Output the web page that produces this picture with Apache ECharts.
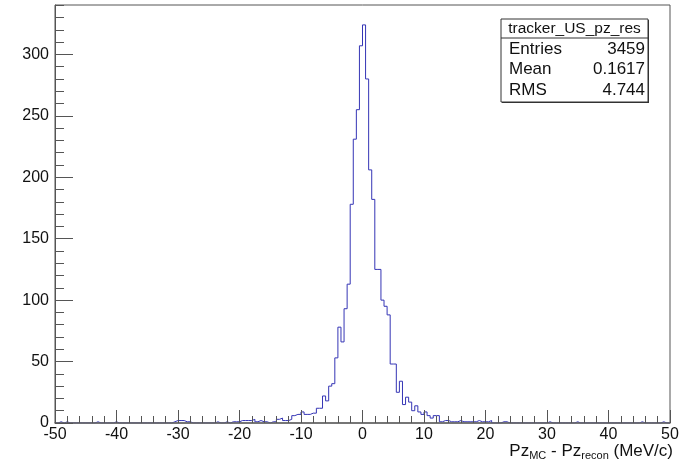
<!DOCTYPE html>
<html>
<head>
<meta charset="utf-8">
<script src="https://cdn.jsdelivr.net/npm/echarts@6/dist/echarts.min.js"></script>
<style>
  html, body { margin: 0; padding: 0; background: #fff; }
  #chart { width: 685px; height: 464px; }
</style>
</head>
<body>
<div id="chart"></div>
<script>
// tracker_US_pz_res : 200 bins of 0.5 MeV/c between -50 and 50
var binLow = -50;
var binWidth = 0.5;
var counts = [
  0, 1, 0, 1, 0, 0, 0, 0, 0, 0,   0, 0, 0, 1, 0, 0, 0, 0, 0, 1,
  0, 0, 0, 0, 0, 0, 0, 0, 0, 0,   0, 0, 0, 0, 0, 0, 0, 0, 1, 2,
  2, 2, 1, 1, 0, 0, 0, 0, 0, 0,   0, 0, 1, 0, 0, 1, 0, 1, 1, 1,
  2, 2, 2, 2, 3, 1, 2, 1, 1, 0,   1, 1, 3, 4, 2, 2, 3, 6, 7, 7,
  9, 7, 7, 8, 8, 12, 12, 22, 18, 30,   32, 53, 78, 66, 93, 113, 178, 231, 255, 307,
  324, 280, 206, 182, 125, 125, 100, 95, 88, 48,   48, 25, 34, 15, 21, 17, 10, 14, 9, 7,
  9, 6, 4, 6, 6, 1, 2, 2, 1, 1,   1, 2, 1, 1, 1, 1, 1, 2, 1, 1,
  1, 2, 0, 0, 0, 1, 1, 0, 0, 0,   0, 0, 0, 0, 0, 0, 0, 0, 0, 0,
  1, 0, 0, 0, 0, 0, 0, 0, 0, 1,   0, 0, 0, 0, 0, 0, 0, 0, 0, 0,
  0, 0, 0, 0, 0, 0, 0, 0, 0, 0,   1, 0, 0, 0, 0, 0, 0, 1, 0, 0
];

// axis ranges / tick steps
var xMin = -50, xMax = 50, xStep = 10;
var yMax = 340.2, yStep = 50, yMinorStep = 10;

// stats box
var histName = 'tracker_US_pz_res';
var statNames = ['Entries', 'Mean', 'RMS'];
var statValues = ['3459', '0.1617', '4.744'];

var FONT = 'Liberation Sans, Arial, Helvetica, sans-serif';
var LINE = '#555';

var myChart = echarts.init(document.getElementById('chart'));

// step outline: one point per bin low edge, plus the closing edge
var points = counts.map(function (c, i) { return [binLow + i * binWidth, c]; });
points.push([binLow + counts.length * binWidth, counts[counts.length - 1]]);

// stats box graphic
var boxX = 501, boxY = 19, boxW = 147, boxH = 83, headH = 19, rowH = 20.5;
var statEls = [
  { type: 'rect', shape: { x: boxX + 1, y: boxY + 1, width: boxW, height: boxH }, style: { fill: '#333' } },
  { type: 'rect', shape: { x: boxX, y: boxY, width: boxW, height: boxH }, style: { fill: '#fff', stroke: '#333', lineWidth: 1 } },
  { type: 'line', shape: { x1: boxX, y1: boxY + headH, x2: boxX + boxW, y2: boxY + headH }, style: { stroke: '#333', lineWidth: 1 } },
  { type: 'text', x: boxX + boxW / 2, y: boxY + headH / 2 + 0.5,
    style: { text: histName, font: '15.5px ' + FONT, fill: '#111', align: 'center', verticalAlign: 'middle' } }
];
statNames.forEach(function (n, i) {
  var cy = boxY + headH + rowH * (i + 0.5) + 1;
  statEls.push({ type: 'text', x: boxX + 8, y: cy,
    style: { text: n, font: '17px ' + FONT, fill: '#111', align: 'left', verticalAlign: 'middle' } });
  statEls.push({ type: 'text', x: boxX + boxW - 3, y: cy,
    style: { text: statValues[i], font: '17px ' + FONT, fill: '#111', align: 'right', verticalAlign: 'middle' } });
});

var option = {
  animation: false,
  backgroundColor: '#fff',
  grid: {
    left: 55, right: 15, top: 5, bottom: 41,
    show: true, borderColor: LINE, borderWidth: 1, backgroundColor: 'transparent'
  },
  xAxis: {
    type: 'value',
    min: xMin, max: xMax, interval: xStep,
    z: 5,
    axisLine: { onZero: false, lineStyle: { color: '#666', width: 1.5 } },
    axisTick: { inside: true, length: 13, lineStyle: { color: LINE } },
    minorTick: { show: true, splitNumber: 5, length: 7, lineStyle: { color: LINE } },
    splitLine: { show: false },
    axisLabel: { color: '#111', fontSize: 16, fontFamily: FONT, margin: 4 }
  },
  yAxis: [{
    type: 'value',
    position: 'left',
    min: 0, max: yMax, interval: yStep,
    z: 5,
    axisLine: { show: true, onZero: false, lineStyle: { color: LINE, width: 1 } },
    axisTick: { show: true, inside: true, length: 18, lineStyle: { color: LINE } },
    splitLine: { show: false },
    axisLabel: { color: '#111', fontSize: 16, fontFamily: FONT, margin: 6, showMaxLabel: false }
  }, {
    // minor ticks every 10 counts
    type: 'value',
    position: 'left',
    min: 0, max: yMax, interval: yMinorStep,
    z: 5,
    axisLine: { show: false, onZero: false },
    axisTick: { show: true, inside: true, length: 9, lineStyle: { color: LINE } },
    splitLine: { show: false },
    axisLabel: { show: false }
  }],
  series: [{
    type: 'line',
    step: 'end',
    yAxisIndex: 0,
    symbol: 'none',
    silent: true,
    lineStyle: { color: '#3535b5', width: 1 },
    data: points
  }],
  graphic: [{
    type: 'text',
    right: 12, top: 439,
    style: {
      text: '{a|Pz}{s|MC}{a| - Pz}{s|recon}{a| (MeV/c)}',
      fill: '#111',
      rich: {
        a: { fontSize: 17, fontFamily: FONT, lineHeight: 18, verticalAlign: 'top', fill: '#111' },
        s: { fontSize: 11, fontFamily: FONT, lineHeight: 12, padding: [11, 0, 0, 0], verticalAlign: 'bottom', fill: '#111' }
      }
    }
  }, {
    type: 'group',
    children: statEls
  }]
};

myChart.setOption(option);
</script>
</body>
</html>
